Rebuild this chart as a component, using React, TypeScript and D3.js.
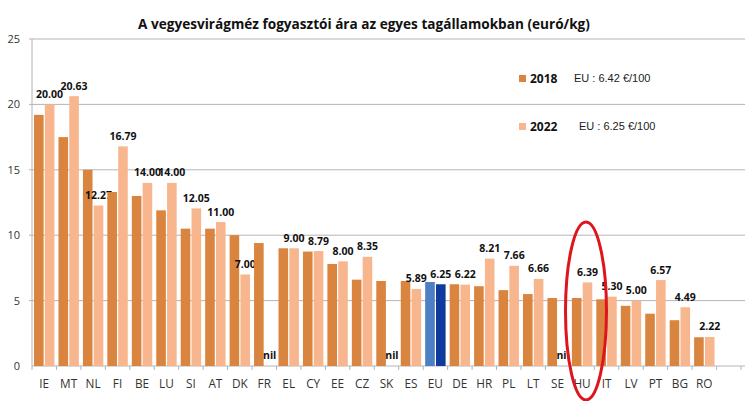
import React from "react";
import * as d3 from "d3";

const categories = ["IE","MT","NL","FI","BE","LU","SI","AT","DK","FR","EL","CY","EE","CZ","SK","ES","EU","DE","HR","PL","LT","SE","HU","IT","LV","PT","BG","RO"];
const values2018: (number | null)[] = [19.2,17.5,15.0,13.3,13.0,11.9,10.5,10.5,10.0,9.4,9.0,8.75,7.8,6.6,6.5,6.5,6.42,6.25,6.1,5.8,5.5,5.2,5.2,5.1,4.6,4.0,3.5,2.2];
const values2022: (number | null)[] = [20.0,20.63,12.27,16.79,14.0,14.0,12.05,11.0,7.0,null,9.0,8.79,8.0,8.35,null,5.89,6.25,6.22,8.21,7.66,6.66,null,6.39,5.3,5.0,6.57,4.49,2.22];
const yTicks = [0,5,10,15,20,25];
const title = "A vegyesvirágméz fogyasztói ára az egyes tagállamokban (euró/kg)";
const legendItems = [
  { year: "2018", note: "EU : 6.42 €/100" },
  { year: "2022", note: "EU : 6.25 €/100" },
];

const C18 = "#D9843F";
const C22 = "#F8B68F";
const EU18 = "#4D7FC4";
const EU22 = "#0F3C9C";

export default function App() {
  const W = 750, H = 401;
  const left = 32, right = 741, top = 39, bottom = 366;
  const slots = [...categories, ""];
  const x = d3.scaleBand<string>().domain(slots.map((d, i) => d + "_" + i)).range([left, right]);
  const y = d3.scaleLinear().domain([0, 25]).range([bottom, top]);
  const bw = x.bandwidth();
  const barW = 9.6;
  const gap = 1.2;
  const font = "'Liberation Sans', Arial, sans-serif";
  const lblFont = "'Open Sans', 'Liberation Sans', sans-serif";
  return (
    <svg width={W} height={H} style={{ position: "absolute", left: 0, top: 0, background: "#fff" }}>
      <defs>
        <clipPath id="seclip"><rect x={0} y={0} width={567} height={H} /></clipPath>
      </defs>
      <rect width={W} height={H} fill="#fff" />
      <text x={364} y={29} textAnchor="middle" fontFamily={lblFont} fontWeight="bold" fontSize={13.6} fill="#111">{title}</text>
      {yTicks.map(t => (
        <g key={t}>
          {t > 0 && <line x1={left - 3} x2={745} y1={y(t)} y2={y(t)} stroke="#B4B4B4" strokeWidth={1} />}
          <text x={20} y={y(t) + 4} textAnchor="end" fontFamily={lblFont} fontSize={11} fill="#333">{t}</text>
        </g>
      ))}
      <line x1={left} x2={left} y1={top} y2={bottom} stroke="#B4B4B4" />
      <line x1={left} x2={745} y1={bottom} y2={bottom} stroke="#B4B4B4" />
      {slots.map((s, i) => {
        const x0 = left + i * bw;
        return <line key={"t" + i} x1={x0} x2={x0} y1={bottom} y2={bottom + 4} stroke="#B4B4B4" />;
      })}
      <line x1={right} x2={right} y1={bottom} y2={bottom + 4} stroke="#B4B4B4" />
      {categories.map((c, i) => {
        const x0 = x(c + "_" + i)!;
        const cx = x0 + bw / 2;
        const v18 = values2018[i];
        const v22 = values2022[i];
        const isEU = c === "EU";
        const x18 = cx - gap / 2 - barW;
        const x22 = cx + gap / 2;
        return (
          <g key={c}>
            {v18 != null && <rect x={x18} y={y(v18)} width={barW} height={y(0) - y(v18)} fill={isEU ? EU18 : C18} />}
            {v22 != null && <rect x={x22} y={y(v22)} width={barW} height={y(0) - y(v22)} fill={isEU ? EU22 : C22} />}
            {v22 != null ? (
              <text x={x22 + barW / 2} y={y(v22) - 6.5} textAnchor="middle" fontFamily={lblFont} fontWeight="bold" fontSize={10.5} fill="#111">{v22.toFixed(2)}</text>
            ) : (
              <text x={x22 + barW / 2} y={y(0) - 7} textAnchor="middle" fontFamily={lblFont} fontWeight="bold" fontSize={10.5} fill="#111" clipPath={c === "SE" ? "url(#seclip)" : undefined}>nil</text>
            )}
            <text x={cx} y={388} textAnchor="middle" fontFamily={lblFont} fontSize={11.8} fill="#333">{c}</text>
          </g>
        );
      })}
      {legendItems.map((l, i) => (
        <g key={l.year} transform={`translate(0, ${i * 48})`}>
          <rect x={519} y={75} width={7} height={7} fill={i === 0 ? C18 : C22} />
          <text x={530} y={83} fontFamily={lblFont} fontWeight="bold" fontSize={12} fill="#111">{l.year}</text>
          <text x={574 + i * 5} y={82} fontFamily={font} fontSize={11} fill="#222">{l.note}</text>
        </g>
      ))}
      <ellipse cx={586} cy={311} rx={20.5} ry={89} fill="none" stroke="#E0141C" strokeWidth={3} />
    </svg>
  );
}
